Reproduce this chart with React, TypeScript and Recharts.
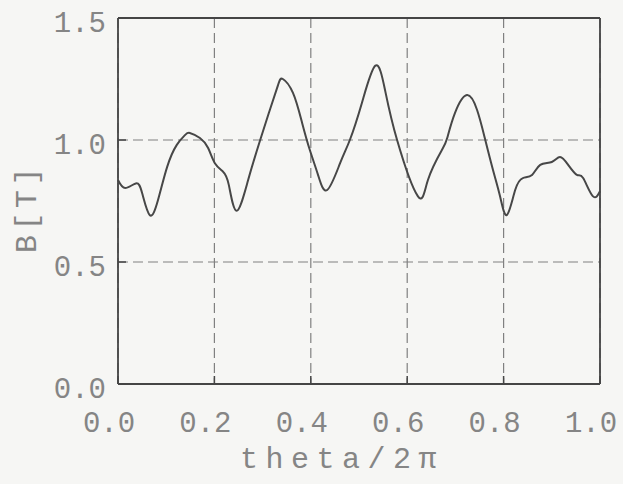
import React from 'react';
import { LineChart, Line, XAxis, YAxis, CartesianGrid, ReferenceLine } from 'recharts';

const theta = [
  0.0, 0.015, 0.037, 0.05, 0.066, 0.083, 0.102, 0.122, 0.139, 0.149, 0.17, 0.187,
  0.201, 0.218, 0.23, 0.246, 0.27, 0.295, 0.315, 0.332, 0.342, 0.363, 0.382, 0.398,
  0.415, 0.434, 0.461, 0.481, 0.506, 0.534, 0.554, 0.579, 0.622, 0.643, 0.672,
  0.683, 0.699, 0.724, 0.745, 0.761, 0.778, 0.793, 0.807, 0.824, 0.84, 0.859, 0.876,
  0.9, 0.917, 0.934, 0.952, 0.965, 0.985, 1.0,
];
const bField = [
  0.836, 0.803, 0.822, 0.783, 0.692, 0.754, 0.89, 0.98, 1.02, 1.029, 1.008, 0.967,
  0.905, 0.87, 0.815, 0.71, 0.836, 1.0, 1.123, 1.225, 1.25, 1.193, 1.07, 0.959,
  0.857, 0.795, 0.906, 1.0, 1.152, 1.305, 1.205, 1.0, 0.77, 0.836, 0.959,
  1.008, 1.11, 1.184, 1.123, 1.008, 0.877, 0.766, 0.693, 0.795, 0.844, 0.857, 0.898,
  0.91, 0.93, 0.898, 0.857, 0.844, 0.77, 0.79,
];
const xTicks = [0, 0.2, 0.4, 0.6, 0.8, 1.0];
const yTicks = [0, 0.5, 1.0, 1.5];
const xTitle = 'theta/2π';
const yTitle = 'B[T]';

const data = theta.map((t, i) => ({ t, b: bField[i] }));

const FONT = '"Liberation Mono", "DejaVu Sans Mono", monospace';
const TEXT = '#858585';
const FRAME = '#454545';

const XTick = (props: any) => {
  const { x, y, payload } = props;
  return (
    <text x={x - 9} y={y + 48} textAnchor="middle" fontFamily={FONT} fontSize={29} fill={TEXT}>
      {Number(payload.value).toFixed(1)}
    </text>
  );
};

const YTick = (props: any) => {
  const { x, y, payload } = props;
  return (
    <text x={x - 12} y={y + 14} textAnchor="end" fontFamily={FONT} fontSize={29} fill={TEXT}>
      {Number(payload.value).toFixed(1)}
    </text>
  );
};

const XTitle = (props: any) => {
  const vb = props.viewBox || { x: 118, y: 384, width: 482, height: 100 };
  return (
    <text
      x={vb.x + vb.width / 2 - 17}
      y={vb.y + 84}
      textAnchor="middle"
      fontFamily={FONT}
      fontSize={30}
      letterSpacing={7.5}
      fill={TEXT}
    >
      {xTitle}
    </text>
  );
};

const YTitle = (props: any) => {
  const vb = props.viewBox || { x: 0, y: 18, width: 118, height: 366 };
  const cx = vb.x + 28;
  const cy = vb.y + vb.height / 2 + 7;
  return (
    <text
      x={cx}
      y={cy}
      textAnchor="middle"
      dominantBaseline="central"
      fontFamily={FONT}
      fontSize={30}
      letterSpacing={4.5}
      fill={TEXT}
      transform={`rotate(-90 ${cx} ${cy})`}
    >
      {yTitle}
    </text>
  );
};

export default function App() {
  return (
    <div style={{ position: 'absolute', left: 0, top: 0, width: 623, height: 484, background: '#f6f6f4' }}>
      <LineChart width={623} height={484} data={data} margin={{ top: 18, right: 23, left: 0, bottom: 0 }}>
        <CartesianGrid stroke="#808080" strokeWidth={1.2} strokeDasharray="10 5" />
        <XAxis
          dataKey="t"
          type="number"
          domain={[0, 1]}
          ticks={xTicks}
          interval={0}
          height={100}
          tickSize={-8}
          tickMargin={8}
          tick={<XTick />}
          axisLine={{ stroke: FRAME, strokeWidth: 1.8 }}
          tickLine={{ stroke: FRAME, strokeWidth: 1.5 }}
          label={<XTitle />}
        />
        <YAxis
          type="number"
          domain={[0, 1.5]}
          ticks={yTicks}
          interval={0}
          width={118}
          tickSize={-8}
          tickMargin={8}
          tick={<YTick />}
          axisLine={{ stroke: FRAME, strokeWidth: 1.8 }}
          tickLine={{ stroke: FRAME, strokeWidth: 1.5 }}
          label={<YTitle />}
        />
        <ReferenceLine y={1.5} stroke={FRAME} strokeWidth={1.8} ifOverflow="visible" />
        <ReferenceLine x={1.0} stroke={FRAME} strokeWidth={1.8} ifOverflow="visible" />
        <Line
          type="natural"
          dataKey="b"
          stroke="#474747"
          strokeWidth={2}
          dot={false}
          isAnimationActive={false}
        />
      </LineChart>
    </div>
  );
}
